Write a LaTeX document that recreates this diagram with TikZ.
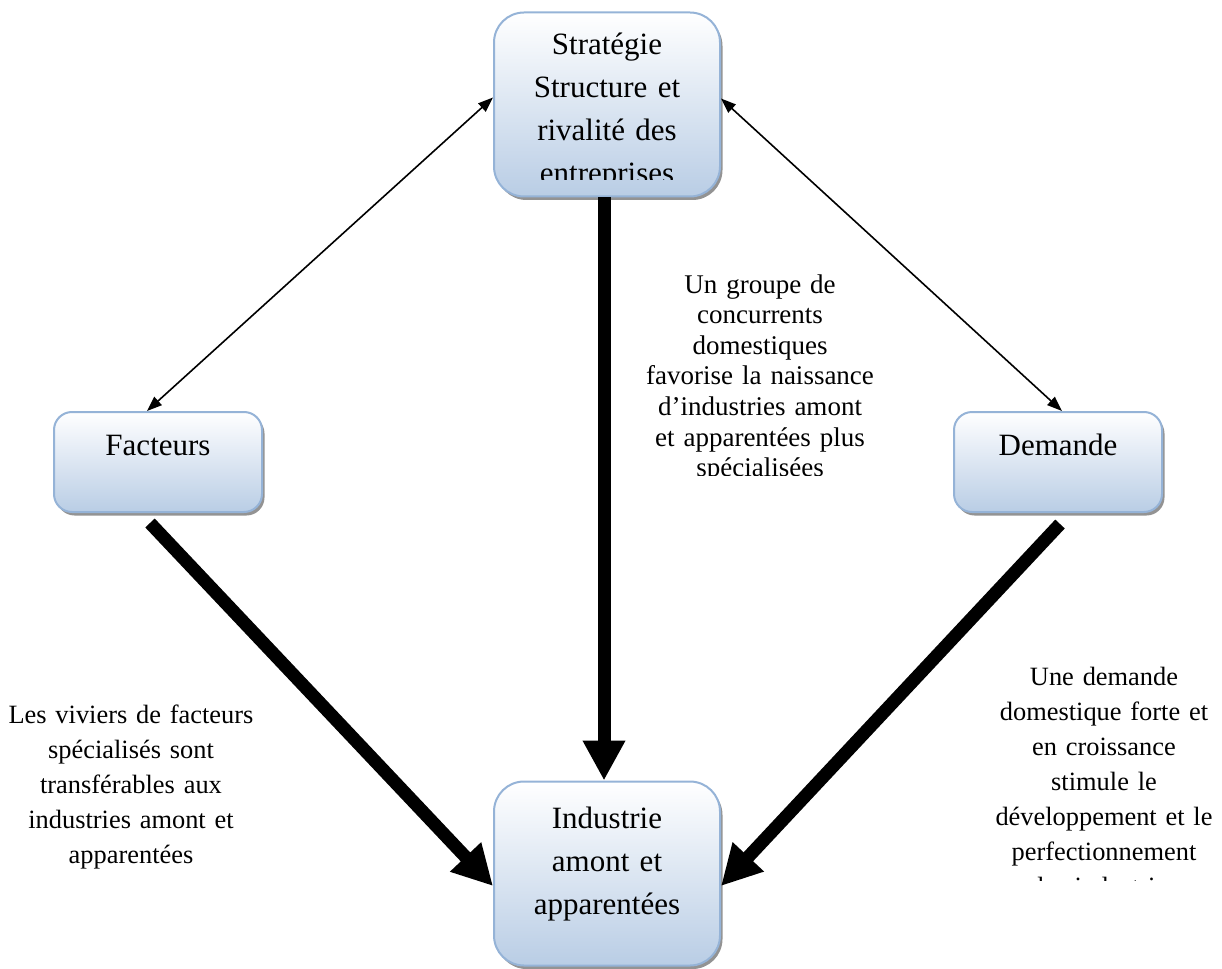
\documentclass[tikz,border=0pt]{standalone}
\usepackage{fontspec}
\setmainfont{Liberation Serif}
\usetikzlibrary{arrows.meta,shadows}
\definecolor{boxedge}{RGB}{149,179,215}
\definecolor{boxfill}{RGB}{185,205,229}
\begin{document}
\begin{tikzpicture}[x=1pt,y=-1pt,
  box/.style={draw=boxedge, line width=2pt, top color=white, bottom color=boxfill,
    drop shadow={shadow xshift=2.5pt, shadow yshift=-3.5pt, fill=black!50, opacity=0.85}},
  bigbox/.style={box, rounded corners=30pt, minimum width=226pt, minimum height=184pt},
  smallbox/.style={box, rounded corners=18pt, minimum width=208pt, minimum height=100pt},
  boxtext/.style={anchor=base, text width=300pt, align=center, inner sep=0pt,
    font=\fontsize{31}{43}\selectfont},
  notetext/.style={anchor=base, text width=320pt, align=center, inner sep=0pt,
    font=\fontsize{26.4}{35}\selectfont},
  thinlink/.style={line width=1.6pt,
    {Triangle[length=15pt,width=11pt]}-{Triangle[length=15pt,width=11pt]}},
  thicklink/.style={line width=13pt, -{Triangle[length=40pt,width=40pt]}}]

\useasboundingbox (0,0) rectangle (1222,968);

% the four boxes
\node[bigbox]   (top) at (607,104.5) {};
\node[bigbox]   (bot) at (607,873.5) {};
\node[smallbox] (fac) at (158,462) {};
\node[smallbox] (dem) at (1058,462) {};

% box texts
\begin{scope}
  \clip (480,0) rectangle (740,180);
  \node[boxtext] (toptext) at (607,55) {Stratégie\\Structure et\\rivalité des\\entreprises};
\end{scope}
\node[boxtext] (bottext) at (607,828) {Industrie\\amont et\\apparentées};
\node[boxtext] (factext) at (158,455) {Facteurs};
\node[boxtext] (demtext) at (1058,455) {Demande};

% notes beside the thick arrows
\begin{scope}
  \clip (615,250) rectangle (920,475);
  \node[notetext, font=\fontsize{27}{30.6}\selectfont] (midnote) at (760,293)
    {Un groupe de\\concurrents\\domestiques\\favorise la naissance\\d’industries amont\\et apparentées plus\\spécialisées};
\end{scope}
\node[notetext] (leftnote) at (131,723)
  {Les viviers de facteurs\\spécialisés sont\\transférables aux\\industries amont et\\apparentées};
\begin{scope}
  \clip (940,640) rectangle (1222,880);
  \node[notetext] (rightnote) at (1104,685)
    {Une demande\\domestique forte et\\en croissance\\stimule le\\développement et le\\perfectionnement\\des industries};
\end{scope}

% connectors
\draw[thinlink] ([yshift=7pt]top.west) -- ([xshift=-11pt]fac.north);
\draw[thinlink] ([yshift=6pt]top.east) -- ([xshift=4pt]dem.north);
\draw[thicklink] ([xshift=-3pt]top.south) -- ([xshift=-3pt]bot.north);
\draw[thicklink] ([xshift=-8pt,yshift=-10pt]fac.south) -- ([yshift=-12.5pt]bot.west);
\draw[thicklink] ([xshift=2pt,yshift=-11pt]dem.south) -- ([yshift=-12.5pt]bot.east);
\end{tikzpicture}
\end{document}
